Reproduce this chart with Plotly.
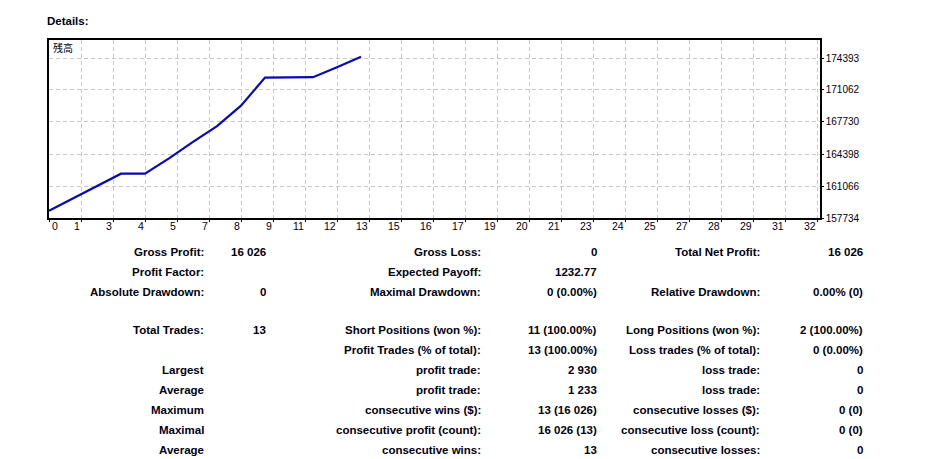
import plotly.graph_objects as go

# ---------------- data ----------------
trade_no = [0, 1, 2, 3, 4, 5, 6, 7, 8, 9, 10, 11, 12, 13]
balance = [158494, 159774, 161059, 162349, 162359, 163939, 165659,
           167299, 169429, 172359, 172374, 172394, 173434, 174520]

x_tickvals = [0, 4/3, 8/3, 4, 16/3, 20/3, 8, 28/3, 32/3, 12, 40/3, 44/3, 16,
              52/3, 56/3, 20, 64/3, 68/3, 24, 76/3, 80/3, 28, 88/3, 92/3, 32]
x_ticktext = ["0", "1", "3", "4", "5", "7", "8", "9", "11", "12", "13", "15", "16",
              "17", "19", "20", "21", "23", "24", "25", "27", "28", "29", "31", "32"]
y_tickvals = [157734, 161066, 164398, 167730, 171062, 174393]
y_ticktext = ["157734", "161066", "164398", "167730", "171062", "174393"]
x_range = [0, 32.125]
y_range = [157734, 176267]

col1_labels = ["Gross Profit:", "Profit Factor:", "Absolute Drawdown:", "Total Trades:", "",
               "Largest", "Average", "Maximum", "Maximal", "Average"]
col1_values = ["16 026", "", "0", "13", "", "", "", "", "", ""]
col2_labels = ["Gross Loss:", "Expected Payoff:", "Maximal Drawdown:", "Short Positions (won %):",
               "Profit Trades (% of total):", "profit trade:", "profit trade:",
               "consecutive wins ($):", "consecutive profit (count):", "consecutive wins:"]
col2_values = ["0", "1232.77", "0 (0.00%)", "11 (100.00%)", "13 (100.00%)", "2 930", "1 233",
               "13 (16 026)", "16 026 (13)", "13"]
col3_labels = ["Total Net Profit:", "", "Relative Drawdown:", "Long Positions (won %):",
               "Loss trades (% of total):", "loss trade:", "loss trade:",
               "consecutive losses ($):", "consecutive loss (count):", "consecutive losses:"]
col3_values = ["16 026", "", "0.00% (0)", "2 (100.00%)", "0 (0.00%)", "0", "0",
               "0 (0)", "0 (0)", "0"]

# ---------------- layout geometry ----------------
W, H = 926, 459
L, R, T, B = 49, 106, 40, 241
PW, PH = W - L - R, H - T - B


def px(x):
    return (x - L) / PW


def py(y):
    return 1 - (y - T) / PH


FONT = "Liberation Sans, Arial, sans-serif"
TXT = "#000010"

fig = go.Figure()
fig.add_trace(go.Scatter(
    x=trade_no, y=balance, mode="lines",
    line=dict(color="#0a0ab4", width=2.2),
    hoverinfo="skip", showlegend=False,
))

annotations = []
# x tick labels (drawn left of the gridline, MT4 style)
for i, (v, t) in enumerate(zip(x_tickvals, x_ticktext)):
    annotations.append(dict(
        x=v, y=py(226), xref="x", yref="paper", text=t, showarrow=False,
        xanchor="left" if i == 0 else "right", yanchor="middle",
        xshift=1,
        font=dict(family=FONT, size=10.5, color=TXT),
    ))

# Title and chart label
annotations.append(dict(x=px(45), y=py(21), xref="paper", yref="paper", text="<b>Details:</b>",
                        showarrow=False, xanchor="left", yanchor="middle",
                        font=dict(family=FONT, size=11.5, color=TXT)))
annotations.append(dict(x=px(51), y=py(47), xref="paper", yref="paper", text="残高",
                        showarrow=False, xanchor="left", yanchor="middle",
                        font=dict(family="Noto Sans CJK JP", size=10, color=TXT)))

row_y = [252, 272, 292, 330, 350, 370, 390, 410, 430, 450]
cols = [(col1_labels, 206), (col1_values, 268), (col2_labels, 483), (col2_values, 599),
        (col3_labels, 762), (col3_values, 865)]
for texts, xr in cols:
    for t, yy in zip(texts, row_y):
        if not t:
            continue
        annotations.append(dict(
            x=px(xr), y=py(yy), xref="paper", yref="paper", text="<b>" + t + "</b>",
            showarrow=False, xanchor="right", yanchor="middle",
            font=dict(family=FONT, size=11.5, color=TXT),
        ))

fig.update_layout(
    width=W, height=H,
    margin=dict(l=L, r=R, t=T, b=B),
    paper_bgcolor="white", plot_bgcolor="white",
    annotations=annotations,
    xaxis=dict(
        range=x_range, tickvals=x_tickvals, showticklabels=False,
        showgrid=True, gridcolor="#c8c8c8", griddash="4px,3px", gridwidth=1,
        zeroline=False, showline=True, linecolor="black", linewidth=1.5, mirror=True,
        ticks="outside", ticklen=2, tickcolor="black",
    ),
    yaxis=dict(
        range=y_range, tickvals=y_tickvals, ticktext=y_ticktext, side="right",
        showgrid=True, gridcolor="#c8c8c8", griddash="4px,3px", gridwidth=1,
        zeroline=False, showline=True, linecolor="black", linewidth=1.5, mirror=True,
        ticks="outside", ticklen=2, tickcolor="black",
        tickfont=dict(family=FONT, size=10, color=TXT),
    ),
)

fig.write_html("out.html")
